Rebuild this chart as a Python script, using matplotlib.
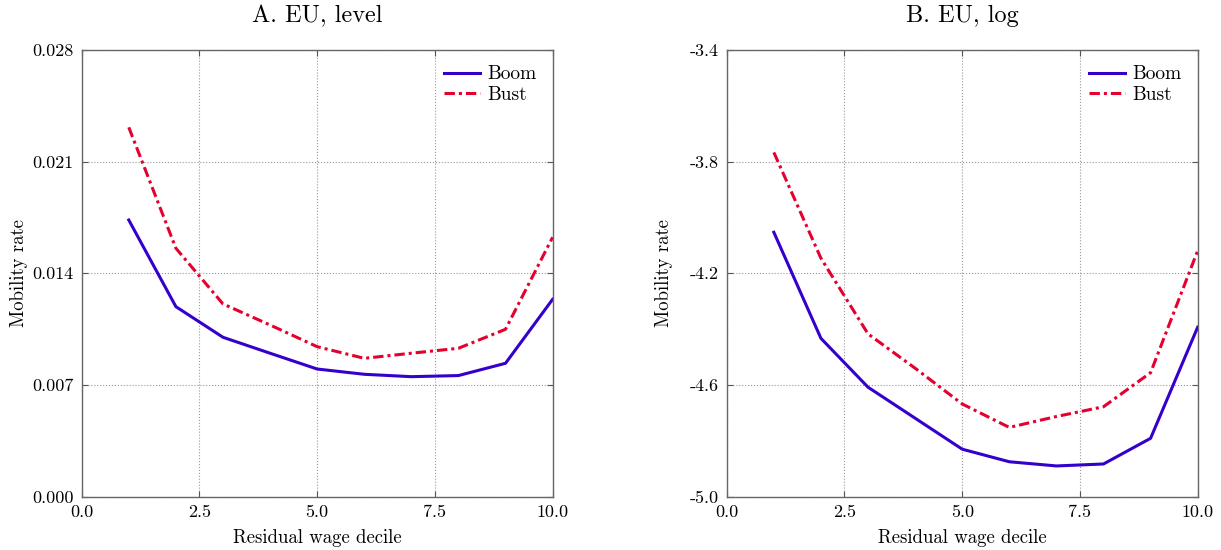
import matplotlib
matplotlib.use('Agg')
import matplotlib.pyplot as plt

plt.rcParams['font.family'] = ['cmr10', 'DejaVu Serif']
plt.rcParams['axes.formatter.use_mathtext'] = True
plt.rcParams['axes.unicode_minus'] = False

# Residual wage deciles
decile = [1, 2, 3, 4, 5, 6, 7, 8, 9, 10]

# EU mobility rate, level
boom_level = [0.01734, 0.01191, 0.00999, 0.00899, 0.00800, 0.00767, 0.00752, 0.00759, 0.00836, 0.01237]
bust_level = [0.02315, 0.01557, 0.01208, 0.01076, 0.00940, 0.00867, 0.00899, 0.00930, 0.01049, 0.01626]

# EU mobility rate, log
boom_log = [-4.053, -4.433, -4.608, -4.719, -4.830, -4.875, -4.890, -4.883, -4.791, -4.393]
bust_log = [-3.767, -4.146, -4.417, -4.540, -4.668, -4.752, -4.713, -4.678, -4.556, -4.119]

xticks = [0.0, 2.5, 5.0, 7.5, 10.0]
xtick_labels = ['0.0', '2.5', '5.0', '7.5', '10.0']
yticks_level = [0.0, 0.007, 0.014, 0.021, 0.028]
ytick_labels_level = ['0.000', '0.007', '0.014', '0.021', '0.028']
yticks_log = [-5.0, -4.6, -4.2, -3.8, -3.4]
ytick_labels_log = ['-5.0', '-4.6', '-4.2', '-3.8', '-3.4']

BLUE = '#3300cc'
RED = '#e6002e'

fig = plt.figure(figsize=(12.21, 5.5), dpi=100)
ax1 = fig.add_axes([0.0669, 0.097, 0.3857, 0.8122])
ax2 = fig.add_axes([0.5952, 0.097, 0.3857, 0.8122])

panels = [
    (ax1, boom_level, bust_level, yticks_level, ytick_labels_level, 'A. EU, level'),
    (ax2, boom_log, bust_log, yticks_log, ytick_labels_log, 'B. EU, log'),
]

for ax, boom, bust, yt, ytl, title in panels:
    ax.plot(decile, boom, color=BLUE, lw=2.2, label='Boom')
    ax.plot(decile, bust, color=RED, lw=2.2, dashes=[3.4, 1.3, 1.0, 1.3], label='Bust')
    ax.set_xlim(0, 10)
    ax.set_ylim(yt[0], yt[-1])
    ax.set_xticks(xticks)
    ax.set_xticklabels(xtick_labels)
    ax.set_yticks(yt)
    ax.set_yticklabels(ytl)
    ax.grid(True, color='#999999', linestyle=':', linewidth=0.8)
    ax.tick_params(direction='in', length=4, width=0.8, color='#555555',
                   labelsize=13, top=True, right=True, pad=6)
    for sp in ax.spines.values():
        sp.set_color('#666666')
        sp.set_linewidth(1.0)
    ax.set_xlabel('Residual wage decile', fontsize=13.5, labelpad=6)
    ax.set_ylabel('Mobility rate', fontsize=13.5)
    ax.yaxis.set_label_coords(-0.114, 0.5)
    ax.set_title(title, fontsize=17.5, pad=20)
    ax.legend(loc='upper right', frameon=False, fontsize=14, handlelength=1.85,
              handletextpad=0.4, labelspacing=0.15, borderaxespad=0.4)

fig.savefig('out.png', dpi=100)
